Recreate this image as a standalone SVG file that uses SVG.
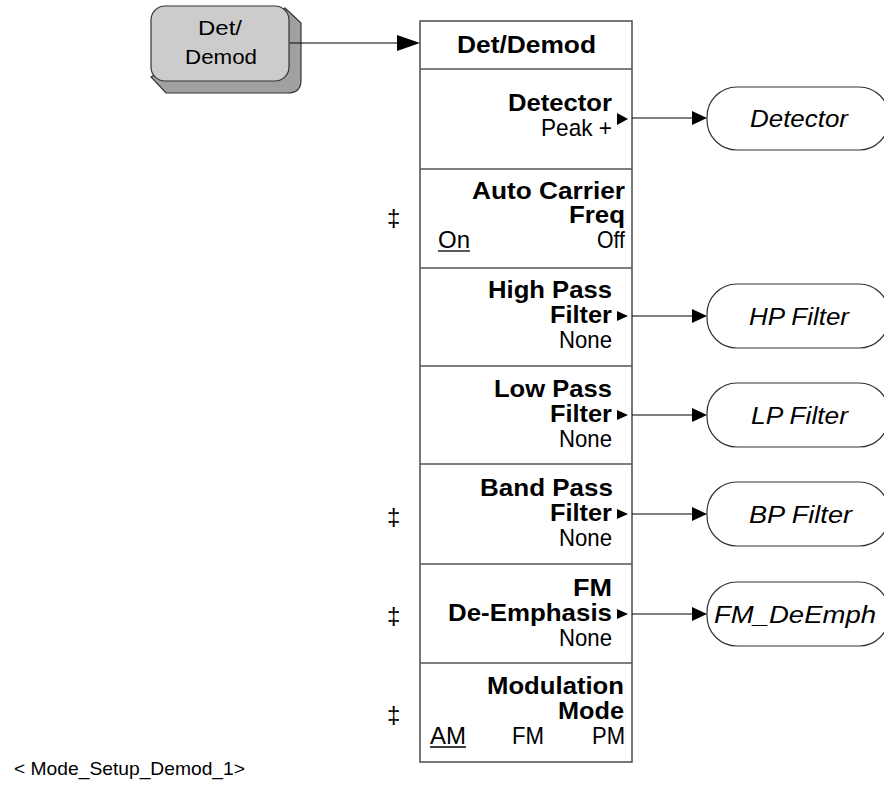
<svg xmlns="http://www.w3.org/2000/svg" width="884" height="785" viewBox="0 0 884 785">
<defs>
<style>
text{font-family:"Liberation Sans",Arial,sans-serif;fill:#000}
.b{font-weight:bold;font-size:24px}
.r{font-size:24px}
.i{font-style:italic;font-size:24px}
.sec{fill:#fff;stroke:#555;stroke-width:1.6}
.term{fill:#fff;stroke:#333;stroke-width:1.2}
.ln{stroke:#000;stroke-width:1;fill:none}
.tri{fill:#000}
</style>
</defs>
<rect width="884" height="785" fill="#fff"/>

<g id="key">
<path d="M285,8 L301,23 L301,80 Q301,93 288,93 L166,93 L151,77 Z" fill="#a0a0a0" stroke="#333" stroke-width="1.2"/>
<rect x="151" y="6" width="138" height="75" rx="14" fill="#cccccc" stroke="#333" stroke-width="1.2"/>
<text class="r" x="198" y="35" textLength="44" lengthAdjust="spacingAndGlyphs" style="font-size:21px">Det/</text>
<text class="r" x="185" y="64" textLength="72" lengthAdjust="spacingAndGlyphs" style="font-size:21px">Demod</text>
</g>

<g id="menu">
<rect class="sec" x="420" y="21" width="212" height="741"/>
<g id="title">
<text class="b" x="457" y="53" textLength="139" lengthAdjust="spacingAndGlyphs">Det/Demod</text>
</g>
<line class="sec" x1="420" y1="69" x2="632" y2="69"/>
<g id="detector-key">
<text class="b" x="508" y="111" textLength="104" lengthAdjust="spacingAndGlyphs">Detector</text>
<text class="r" x="541" y="136" textLength="71" lengthAdjust="spacingAndGlyphs">Peak +</text>
<polygon class="tri" points="617,113 628,119 617,125"/>
</g>
<line class="sec" x1="420" y1="169" x2="632" y2="169"/>
<g id="auto-carrier-key">
<text class="b" x="472" y="199" textLength="153" lengthAdjust="spacingAndGlyphs">Auto Carrier</text>
<text class="b" x="569" y="223" textLength="56" lengthAdjust="spacingAndGlyphs">Freq</text>
<text class="r" x="438" y="248" textLength="32" lengthAdjust="spacingAndGlyphs">On</text>
<line x1="438" y1="251" x2="470" y2="251" stroke="#000" stroke-width="1.3"/>
<text class="r" x="597" y="248" textLength="28" lengthAdjust="spacingAndGlyphs">Off</text>
<text class="r" x="387" y="226">‡</text>
</g>
<line class="sec" x1="420" y1="268" x2="632" y2="268"/>
<g id="high-pass-key">
<text class="b" x="488" y="298" textLength="124" lengthAdjust="spacingAndGlyphs">High Pass</text>
<text class="b" x="550" y="323" textLength="62" lengthAdjust="spacingAndGlyphs">Filter</text>
<text class="r" x="559" y="348" textLength="53" lengthAdjust="spacingAndGlyphs">None</text>
<polygon class="tri" points="617,311 628,316 617,321"/>
</g>
<line class="sec" x1="420" y1="366" x2="632" y2="366"/>
<g id="low-pass-key">
<text class="b" x="494" y="397" textLength="118" lengthAdjust="spacingAndGlyphs">Low Pass</text>
<text class="b" x="550" y="422" textLength="62" lengthAdjust="spacingAndGlyphs">Filter</text>
<text class="r" x="559" y="447" textLength="53" lengthAdjust="spacingAndGlyphs">None</text>
<polygon class="tri" points="617,410 628,415 617,420"/>
</g>
<line class="sec" x1="420" y1="464" x2="632" y2="464"/>
<g id="band-pass-key">
<text class="b" x="480" y="496" textLength="133" lengthAdjust="spacingAndGlyphs">Band Pass</text>
<text class="b" x="550" y="521" textLength="62" lengthAdjust="spacingAndGlyphs">Filter</text>
<text class="r" x="559" y="546" textLength="53" lengthAdjust="spacingAndGlyphs">None</text>
<polygon class="tri" points="617,509 628,514 617,519"/>
<text class="r" x="387" y="525">‡</text>
</g>
<line class="sec" x1="420" y1="564" x2="632" y2="564"/>
<g id="fm-deemph-key">
<text class="b" x="573" y="596" textLength="39" lengthAdjust="spacingAndGlyphs">FM</text>
<text class="b" x="448" y="621" textLength="164" lengthAdjust="spacingAndGlyphs">De-Emphasis</text>
<text class="r" x="559" y="646" textLength="53" lengthAdjust="spacingAndGlyphs">None</text>
<polygon class="tri" points="617,609 628,614 617,619"/>
<text class="r" x="387" y="624">‡</text>
</g>
<line class="sec" x1="420" y1="663" x2="632" y2="663"/>
<g id="modulation-key">
<text class="b" x="487" y="694" textLength="137" lengthAdjust="spacingAndGlyphs">Modulation</text>
<text class="b" x="558" y="719" textLength="66" lengthAdjust="spacingAndGlyphs">Mode</text>
<text class="r" x="430" y="744" textLength="36" lengthAdjust="spacingAndGlyphs">AM</text>
<line x1="430" y1="747" x2="466" y2="747" stroke="#000" stroke-width="1.3"/>
<text class="r" x="512" y="744" textLength="32" lengthAdjust="spacingAndGlyphs">FM</text>
<text class="r" x="592" y="744" textLength="33" lengthAdjust="spacingAndGlyphs">PM</text>
<text class="r" x="387" y="723">‡</text>
</g>
</g>

<g id="node-detector">
<rect class="term" x="707" y="87" width="182" height="63" rx="30"/>
<text class="i" x="750" y="127" textLength="98" lengthAdjust="spacingAndGlyphs">Detector</text>
</g>
<g id="node-hp">
<rect class="term" x="707" y="284" width="182" height="64" rx="30"/>
<text class="i" x="749" y="325" textLength="100" lengthAdjust="spacingAndGlyphs">HP Filter</text>
</g>
<g id="node-lp">
<rect class="term" x="707" y="383" width="182" height="64" rx="30"/>
<text class="i" x="751" y="424" textLength="97" lengthAdjust="spacingAndGlyphs">LP Filter</text>
</g>
<g id="node-bp">
<rect class="term" x="707" y="482" width="182" height="64" rx="30"/>
<text class="i" x="749" y="523" textLength="103" lengthAdjust="spacingAndGlyphs">BP Filter</text>
</g>
<g id="node-fm">
<rect class="term" x="707" y="582" width="182" height="64" rx="30"/>
<text class="i" x="714" y="623" textLength="162" lengthAdjust="spacingAndGlyphs">FM_DeEmph</text>
</g>

<g id="connectors">
<line class="ln" x1="290" y1="43" x2="400" y2="43"/>
<polygon class="tri" points="397,35 420,43 397,51"/>
<line class="ln" x1="632" y1="118" x2="695" y2="118"/>
<polygon class="tri" points="692,111 707,118 692,125"/>
<line class="ln" x1="632" y1="316" x2="695" y2="316"/>
<polygon class="tri" points="692,309 707,316 692,323"/>
<line class="ln" x1="632" y1="415" x2="695" y2="415"/>
<polygon class="tri" points="692,408 707,415 692,422"/>
<line class="ln" x1="632" y1="514" x2="695" y2="514"/>
<polygon class="tri" points="692,507 707,514 692,521"/>
<line class="ln" x1="632" y1="614" x2="695" y2="614"/>
<polygon class="tri" points="692,607 707,614 692,621"/>
</g>

<text class="r" x="14" y="775" textLength="231" lengthAdjust="spacingAndGlyphs" style="font-size:19px">&lt; Mode_Setup_Demod_1&gt;</text>
</svg>
